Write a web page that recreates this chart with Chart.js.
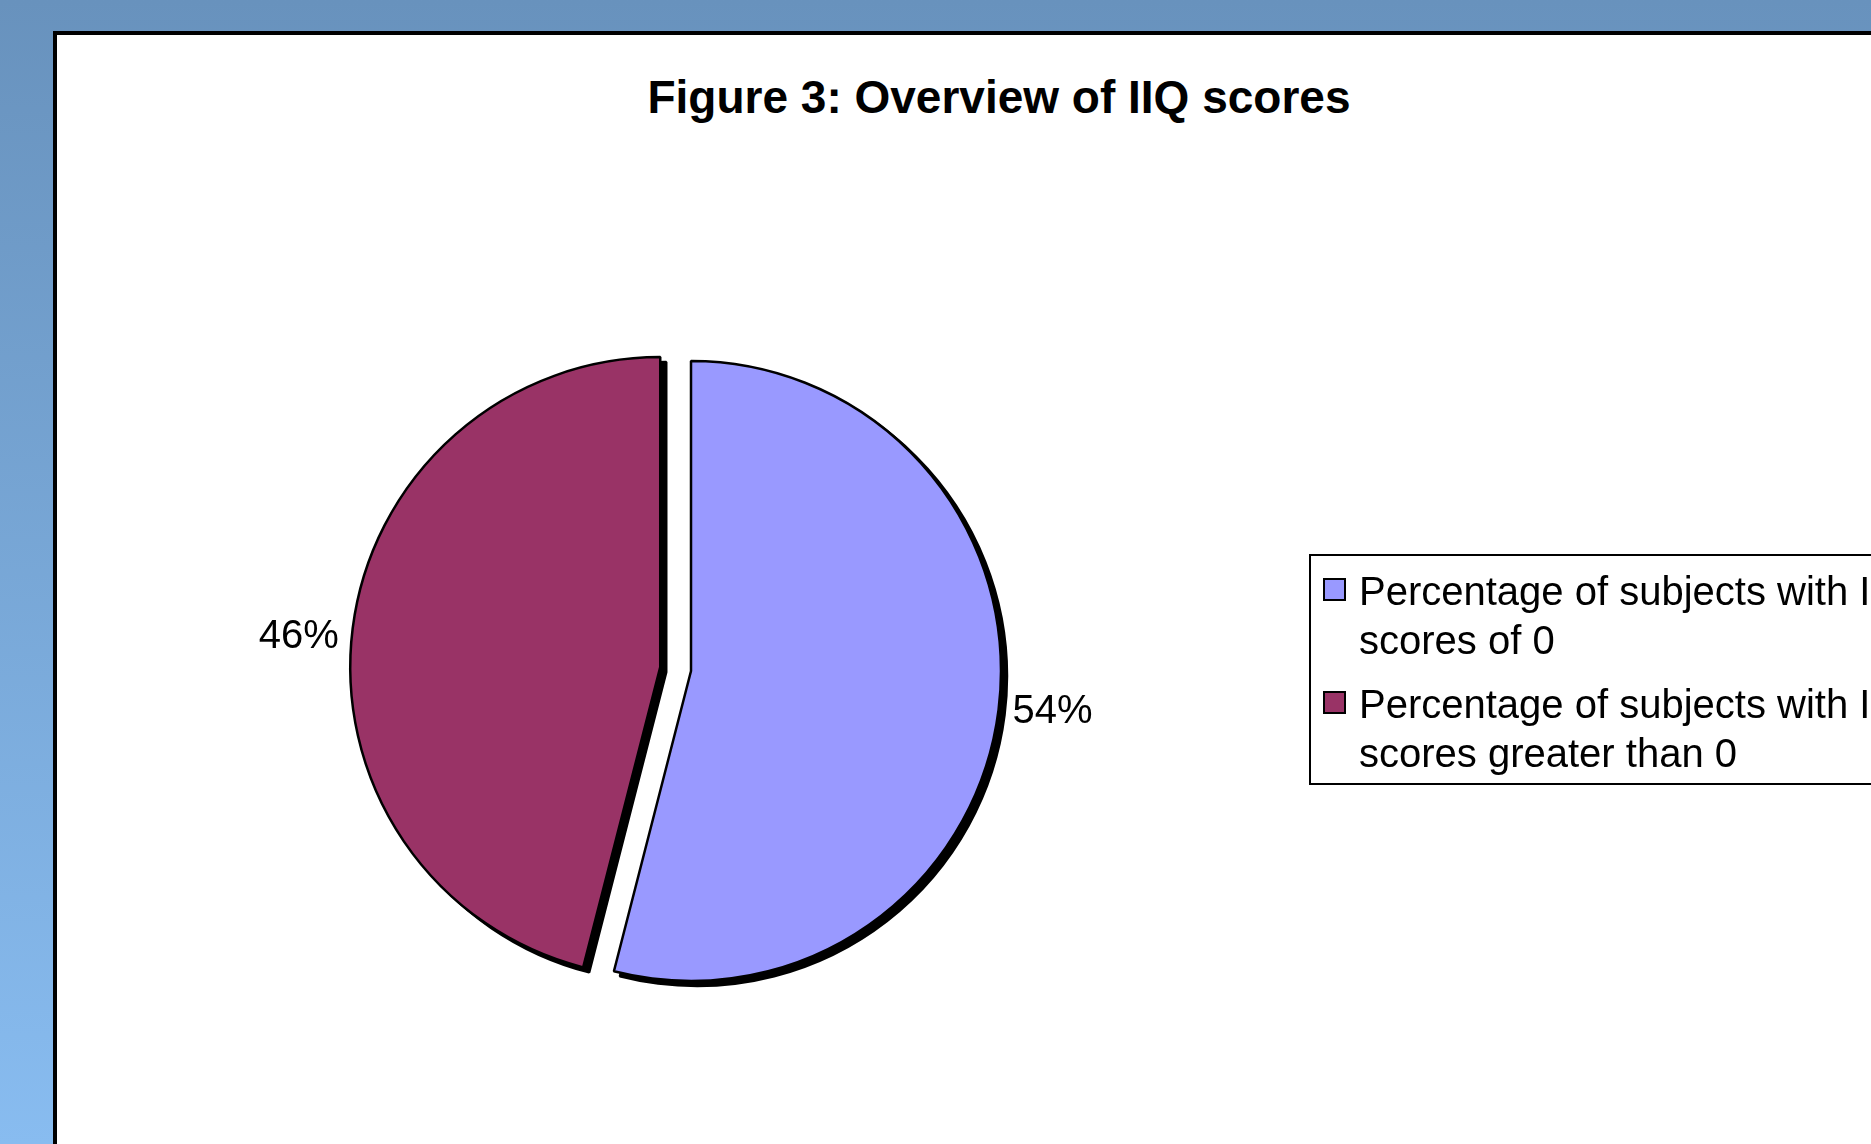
<!DOCTYPE html>
<html>
<head>
<meta charset="utf-8">
<title>Figure 3: Overview of IIQ scores</title>
<script src="https://cdn.jsdelivr.net/npm/chart.js@4.4.1/dist/chart.umd.min.js"></script>
<style>
  html, body { margin: 0; padding: 0; width: 1871px; height: 1144px; overflow: hidden; }
  body { position: relative; background: linear-gradient(to bottom, #6892bd, #88bcf0); font-family: "Liberation Sans", Arial, sans-serif; color: #000; }
  #panel { position: absolute; left: 53px; top: 31px; width: 1900px; height: 1200px; background: #fff; border: 4px solid #000; box-sizing: border-box; }
  #title { position: absolute; left: 0; top: 74px; width: 1998px; text-align: center; font-weight: bold; font-size: 46px; line-height: 46px; white-space: nowrap; }
  #mycanvas { position: absolute; left: 0; top: 0; }
  #legend { position: absolute; left: 1309px; top: 554px; width: 700px; height: 231px; border: 2px solid #000; box-sizing: border-box; background: #fff; }
  .item { position: absolute; left: 1359px; width: 600px; font-size: 40px; line-height: 49px; }
  .box { position: absolute; left: 1323px; width: 23px; height: 23px; border: 2px solid #000; box-sizing: border-box; }
</style>
</head>
<body>
<div id="panel"></div>
<div id="title">Figure 3: Overview of IIQ scores</div>
<div id="legend"></div>
<canvas id="mycanvas" width="1871" height="1144"></canvas>
<script>
// chart data
var labels = ['Percentage of subjects with IIQ scores of 0', 'Percentage of subjects with IIQ scores greater than 0'];
var values = [54, 46];
var colors = ['#9999ff', '#993366'];
var explode = [0, 31];
// small vertical nudge for the percent labels
var labelDy = [0, 10];

// legend (html so the text wraps like the original)
var itemTops = [567, 680];
for (var i in labels) {
  var b = document.createElement('div');
  b.className = 'box';
  b.style.top = (itemTops[i] + 11) + 'px';
  b.style.background = colors[i];
  document.body.appendChild(b);
  var t = document.createElement('div');
  t.className = 'item';
  t.style.top = itemTops[i] + 'px';
  t.textContent = labels[i];
  document.body.appendChild(t);
}

// pull slices out along their middle angle
var explodePlugin = {
  id: 'explode',
  afterDatasetUpdate: function(chart, args) {
    var arcs = chart.getDatasetMeta(args.index).data;
    arcs.forEach(function(arc, i) {
      var d = explode[i] || 0;
      var mid = (arc.startAngle + arc.endAngle) / 2;
      arc.x += Math.cos(mid) * d;
      arc.y += Math.sin(mid) * d;
    });
  }
};

// hard black shadow under every slice
var shadowPlugin = {
  id: 'shadow',
  beforeDatasetDraw: function(chart, args) {
    var ctx = chart.ctx;
    var arcs = args.meta.data;
    ctx.save();
    ctx.translate(6, 5);
    arcs.forEach(function(arc) {
      var o = arc.options;
      arc.options = Object.assign({}, o, { backgroundColor: '#000', borderColor: '#000' });
      arc.draw(ctx);
      arc.options = o;
    });
    ctx.restore();
  }
};

// percent labels outside the pie
var labelPlugin = {
  id: 'pctLabels',
  afterDatasetsDraw: function(chart) {
    var ctx = chart.ctx;
    var total = values.reduce(function(a, b) { return a + b; }, 0);
    ctx.save();
    ctx.font = '40px "Liberation Sans", Arial, sans-serif';
    ctx.fillStyle = '#000';
    ctx.textBaseline = 'middle';
    chart.getDatasetMeta(0).data.forEach(function(arc, i) {
      var mid = (arc.startAngle + arc.endAngle) / 2;
      var r = arc.outerRadius + 14;
      ctx.textAlign = Math.cos(mid) >= 0 ? 'left' : 'right';
      ctx.fillText(Math.round(values[i] / total * 100) + '%',
        arc.x + Math.cos(mid) * r, arc.y + Math.sin(mid) * r + labelDy[i]);
    });
    ctx.restore();
  }
};

var ctx = document.getElementById('mycanvas');
var pieChart = new Chart(ctx, {
  type: 'pie',
  data: {
    labels: labels,
    datasets: [{
      data: values,
      backgroundColor: colors,
      borderColor: '#000',
      borderWidth: 2.5,
      hoverOffset: 0
    }]
  },
  options: {
    responsive: false,
    animation: false,
    radius: 310,
    layout: { padding: { left: 381, right: 870, top: 361, bottom: 163 } },
    plugins: {
      legend: { display: false },
      title: { display: false },
      tooltip: { enabled: false }
    },
    events: []
  },
  plugins: [explodePlugin, shadowPlugin, labelPlugin]
});
</script>
</body>
</html>
